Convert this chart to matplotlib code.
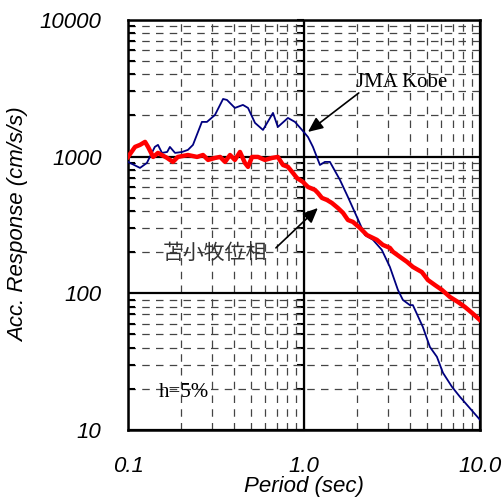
import numpy as np
import matplotlib.pyplot as plt
from matplotlib.ticker import LogLocator, FixedLocator, FixedFormatter, NullFormatter

# JMA Kobe (período em s, resposta em cm/s/s)
kobe_T = [0.100, 0.117, 0.128, 0.142, 0.148, 0.156, 0.167, 0.173, 0.185, 0.203,
          0.219, 0.234, 0.263, 0.281, 0.312, 0.347, 0.365, 0.405, 0.450, 0.481,
          0.527, 0.585, 0.667, 0.711, 0.811, 0.889, 0.975, 1.054, 1.125, 1.233,
          1.315, 1.405, 1.602, 1.778, 2.00, 2.22, 2.47, 2.77, 3.08, 3.42,
          3.65, 4.00, 4.16, 4.74, 5.20, 5.70, 6.17, 6.94, 7.70, 10.0]
kobe_Sa = [915, 827, 899, 1178, 1219, 1065, 1082, 1178, 1065, 1082,
           1120, 1219, 1795, 1795, 2018, 2642, 2600, 2272, 2390, 2272,
           1766, 1568, 2089, 1649, 1919, 1795, 1568, 1393, 1178, 869,
           915, 915, 676, 507, 362, 267, 246, 208, 156, 106,
           89.5, 82, 82, 56.8, 40.5, 34.3, 26.2, 20.7, 17.5, 11.9]

# 苫小牧位相
toma_T = [0.100, 0.1096, 0.117, 0.125, 0.130, 0.139, 0.148, 0.167, 0.180, 0.192,
          0.219, 0.247, 0.267, 0.285, 0.312, 0.334, 0.356, 0.380, 0.405, 0.433,
          0.462, 0.481, 0.507, 0.548, 0.600, 0.658, 0.711, 0.760, 0.811, 0.866,
          0.912, 0.987, 1.054, 1.155, 1.201, 1.265, 1.351, 1.442, 1.560, 1.667,
          1.778, 1.898, 2.08, 2.28, 2.60, 2.81, 3.08, 3.21, 3.51, 3.85,
          4.16, 4.68, 5.07, 5.55, 6.08, 6.76, 7.50, 8.22, 9.01, 10.0]
toma_Sa = [995, 1178, 1219, 1282, 1178, 995, 1065, 978, 915, 995,
           1028, 995, 1028, 946, 978, 995, 915, 1028, 946, 1082,
           899, 842, 995, 995, 946, 978, 995, 869, 842, 760,
           698, 653, 600, 571, 542, 499, 482, 458, 421, 388,
           344, 333, 301, 267, 246, 226, 215, 201, 185, 170,
           156, 143, 125, 115, 106, 94, 86.5, 79.5, 72, 63.8]

x_ticks = [0.1, 1.0, 10.0]
x_labels = ['0.1', '1.0', '10.0']
y_ticks = [10, 100, 1000, 10000]
y_labels = ['10', '100', '1000', '10000']

plt.rcParams['font.family'] = ['Liberation Sans', 'DejaVu Sans']

fig = plt.figure(figsize=(5.03, 4.99), dpi=100)
ax = fig.add_axes([0.2545, 0.1383, 0.6995, 0.8217])

ax.plot(kobe_T, kobe_Sa, color='#000080', lw=1.3, zorder=4)
ax.plot(toma_T, toma_Sa, color='red', lw=3.2, zorder=5)

ax.set_xscale('log')
ax.set_yscale('log')
ax.set_xlim(0.1, 10)
ax.set_ylim(10, 10000)

ax.xaxis.set_major_locator(FixedLocator(x_ticks))
ax.xaxis.set_major_formatter(FixedFormatter(x_labels))
ax.yaxis.set_major_locator(FixedLocator(y_ticks))
ax.yaxis.set_major_formatter(FixedFormatter(y_labels))
ax.xaxis.set_minor_locator(LogLocator(base=10, subs=np.arange(2, 10)))
ax.yaxis.set_minor_locator(LogLocator(base=10, subs=np.arange(2, 10)))
ax.xaxis.set_minor_formatter(NullFormatter())
ax.yaxis.set_minor_formatter(NullFormatter())

ax.grid(True, which='major', color='black', lw=1.6, ls='-')
ax.grid(True, which='minor', color='#444444', lw=0.9, ls=(0, (6, 5)))

ax.tick_params(axis='both', which='both', direction='in', labelsize=16)
ax.tick_params(axis='x', which='both', length=0, pad=19)
ax.tick_params(axis='y', which='major', length=0, pad=19)
ax.tick_params(axis='y', which='minor', length=5, width=1.5)
for lab in ax.get_xticklabels() + ax.get_yticklabels():
    lab.set_fontstyle('italic')

for s in ax.spines.values():
    s.set_linewidth(1.8)

# marcas no eixo T = 1.0
sec = ax.secondary_yaxis(0.5)
sec.yaxis.set_minor_locator(LogLocator(base=10, subs=np.arange(2, 10)))
sec.yaxis.set_minor_formatter(NullFormatter())
sec.yaxis.set_major_formatter(NullFormatter())
sec.tick_params(which='both', direction='in', length=5, width=1.5)
sec.spines['left'].set_visible(False)

ax.set_xlabel('Period (sec)', fontsize=16, fontstyle='italic')
ax.xaxis.set_label_coords(0.5, -0.112)
ax.set_ylabel('Acc. Response (cm/s/s)', fontsize=16, fontstyle='italic')
ax.yaxis.set_label_coords(-0.28, 0.5)

serif = ['Liberation Serif', 'DejaVu Serif']
ax.text(3.6, 3516, 'JMA Kobe', fontsize=15, family=serif, ha='center', va='center')
ax.annotate('', xy=(1.054, 1516), xytext=(2.05, 2924),
            arrowprops=dict(arrowstyle='-|>,head_length=0.9,head_width=0.4',
                            color='black', lw=1.2, shrinkA=0, shrinkB=0))
ax.text(0.312, 197, '苫小牧位相', fontsize=15, color='#333333',
        family=['Noto Sans CJK JP', 'DejaVu Sans'], ha='center', va='center')
ax.annotate('', xy=(1.20, 421), xytext=(0.693, 215),
            arrowprops=dict(arrowstyle='-|>,head_length=0.9,head_width=0.4',
                            color='black', lw=1.2, shrinkA=0, shrinkB=0))
ax.text(0.208, 18.7, 'h=5%', fontsize=15, family=serif, ha='center', va='center')

fig.savefig('out.png', dpi=100)
